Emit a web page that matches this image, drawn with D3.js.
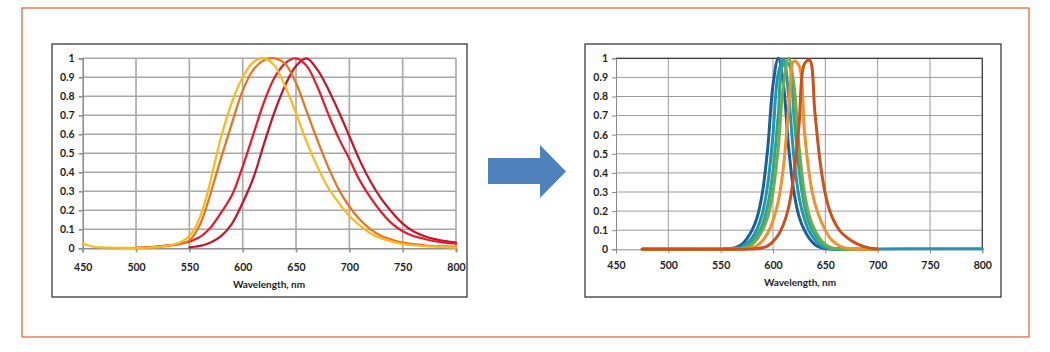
<!DOCTYPE html>
<html>
<head>
<meta charset="utf-8">
<script src="https://cdn.jsdelivr.net/npm/d3@7"></script>
<style>
    body { margin: 0; background: #fff; }
    svg text { font-family: Lato, "Open Sans", sans-serif; font-weight: 700; fill: #1e1e1e; }
</style>
</head>
<body>
<svg id="figure" width="1050" height="352"></svg>
<script>
// ---- data ----
var xTicks = [450, 500, 550, 600, 650, 700, 750, 800];
var yTicks = [0, 0.1, 0.2, 0.3, 0.4, 0.5, 0.6, 0.7, 0.8, 0.9, 1];
var yTickLabels = ["0", "0.1", "0.2", "0.3", "0.4", "0.5", "0.6", "0.7", "0.8", "0.9", "1"];
var axisTitle = "Wavelength, nm";

// left panel: broad emission spectra, 10 nm steps (5 nm on the steep rise)
var leftWavelengths = [450, 460, 470, 480, 490, 500, 510, 520, 530, 540, 545, 550, 555, 560, 565, 570, 580, 590, 600, 610, 620,
    630, 640, 650, 660, 670, 680, 690, 700, 710, 720, 730, 740, 750, 760, 770, 780, 790, 800];
var leftDarkRed = [null, null, null, null, null, null, null, null, null, null, null,
    0.005, 0.008, 0.013, 0.02, 0.03, 0.065, 0.13, 0.24, 0.37, 0.55, 0.72, 0.86, 0.96, 1.0, 0.94, 0.84, 0.72, 0.59,
    0.46, 0.35, 0.26, 0.19, 0.13, 0.09, 0.065, 0.048, 0.038, 0.03];
var leftRed = [null, null, null, null, null, 0.003, 0.005, 0.009, 0.015, 0.024, 0.029,
    0.035, 0.046, 0.06, 0.082, 0.11, 0.19, 0.28, 0.43, 0.60, 0.77, 0.90, 0.975, 1.0, 0.96, 0.85, 0.71, 0.58, 0.47,
    0.355, 0.265, 0.19, 0.13, 0.09, 0.065, 0.05, 0.037, 0.03, 0.024];
var leftOrange = [null, null, null, null, null, 0.003, 0.004, 0.007, 0.012, 0.02, 0.028,
    0.042, 0.075, 0.125, 0.2, 0.29, 0.48, 0.66, 0.83, 0.94, 0.99, 1.0, 0.97, 0.87, 0.72, 0.57, 0.43, 0.31, 0.22,
    0.15, 0.10, 0.065, 0.045, 0.03, 0.022, 0.016, 0.012, 0.01, 0.008];
var leftYellow = [0.025, 0.008, 0.004, 0.003, 0.002, 0.002, 0.003, 0.006, 0.014, 0.028, 0.043,
    0.065, 0.105, 0.165, 0.25, 0.36, 0.59, 0.77, 0.90, 0.98, 1.0, 0.96, 0.85, 0.71, 0.56, 0.43, 0.32, 0.24, 0.17,
    0.12, 0.078, 0.052, 0.035, 0.023, 0.016, 0.012, 0.009, 0.006, 0.004];

// right panel: narrow spectra, 5 nm steps around the peaks
var rightWavelengths = [475, 500, 525, 550, 555, 560, 565, 570, 575, 580, 585, 590, 595, 600, 605, 610, 615,
    620, 625, 630, 635, 640, 645, 650, 655, 660, 665, 670, 675, 680, 685, 690, 695, 700, 750, 800];
var rightBlue = [0, 0, 0, 0, 0.002, 0.004, 0.01, 0.025, 0.055, 0.10, 0.17, 0.30, 0.53, 0.86, 1, 0.86, 0.53,
    0.30, 0.17, 0.10, 0.055, 0.025, 0.01, 0.004, 0.001, 0, 0, 0, 0, 0, 0, 0, 0, 0, null, null];
var rightTeal = [0, 0, 0, 0, 0.001, 0.002, 0.005, 0.012, 0.03, 0.06, 0.11, 0.19, 0.34, 0.60, 0.92, 0.995, 0.80,
    0.48, 0.27, 0.16, 0.09, 0.05, 0.022, 0.009, 0.003, 0.001, 0, 0, 0, 0, 0, 0, 0, 0.002, 0.003, 0.003];
var rightTealGreen = [0, 0, 0, 0, 0, 0.001, 0.003, 0.007, 0.018, 0.042, 0.075, 0.13, 0.23, 0.41, 0.70, 0.97, 0.97,
    0.70, 0.41, 0.23, 0.13, 0.075, 0.042, 0.018, 0.007, 0.003, 0.001, 0, 0, 0, 0, 0, 0, 0, null, null];
var rightGreen = [0, 0, 0, 0, 0, 0, 0.002, 0.004, 0.01, 0.025, 0.055, 0.10, 0.17, 0.30, 0.53, 0.86, 1,
    0.86, 0.53, 0.30, 0.17, 0.10, 0.055, 0.025, 0.01, 0.004, 0.001, 0, 0, 0, 0, 0, 0, 0, null, null];
var rightOrange = [0, 0, 0, 0, 0, 0, 0, 0.001, 0.003, 0.008, 0.02, 0.045, 0.085, 0.15, 0.25, 0.43, 0.74,
    0.985, 0.96, 0.62, 0.38, 0.24, 0.16, 0.10, 0.055, 0.03, 0.014, 0.006, 0.002, 0, 0, 0, 0, 0, null, null];
var rightRed = [0, 0, 0, 0, 0, 0, 0, 0, 0.001, 0.002, 0.004, 0.008, 0.018, 0.04, 0.075, 0.13, 0.22,
    0.39, 0.66, 0.97, 0.99, 0.72, 0.46, 0.29, 0.19, 0.13, 0.09, 0.065, 0.045, 0.03, 0.018, 0.01, 0.004, 0.001, null, null];

/*
 * SpectrumChart - one framed Excel-like panel
 */
SpectrumChart = function(_svg, _layout, _wavelengths, _series, _style) {
    this.svg = _svg;
    this.layout = _layout;
    this.wavelengths = _wavelengths;
    this.series = _series;
    this.style = _style;
    this.initVis();
}

SpectrumChart.prototype.initVis = function() {
    var vis = this;
    var L = vis.layout, S = vis.style;

    vis.g = vis.svg.append("g");

    // outer frame
    vis.g.append("rect")
        .attr("x", L.box[0]).attr("y", L.box[1])
        .attr("width", L.box[2]).attr("height", L.box[3])
        .attr("fill", "#fff").attr("stroke", "#2b2b2b").attr("stroke-width", 1.2);

    vis.x = d3.scaleLinear().domain([450, 800]).range([L.plot[0], L.plot[1]]);
    vis.y = d3.scaleLinear().domain([0, 1]).range([L.plot[2], L.plot[3]]);

    // grid
    vis.g.append("g").selectAll("line.h")
        .data(yTicks.slice(1))
        .enter().append("line")
        .attr("x1", vis.x(450)).attr("x2", vis.x(800))
        .attr("y1", function(d) { return vis.y(d); })
        .attr("y2", function(d) { return vis.y(d); })
        .attr("stroke", S.grid).attr("stroke-width", S.gridWidth);
    vis.g.append("g").selectAll("line.v")
        .data(xTicks.slice(1))
        .enter().append("line")
        .attr("y1", vis.y(0)).attr("y2", vis.y(1))
        .attr("x1", function(d) { return vis.x(d); })
        .attr("x2", function(d) { return vis.x(d); })
        .attr("stroke", S.grid).attr("stroke-width", S.gridWidth);

    if (S.frameTopRight) {
        vis.g.append("path")
            .attr("d", "M" + vis.x(450) + "," + vis.y(1) + "H" + vis.x(800) + "V" + vis.y(0))
            .attr("fill", "none").attr("stroke", "#3a3a3a").attr("stroke-width", 1.2);
    }

    // axes
    var yAxis = d3.axisLeft(vis.y)
        .tickValues(yTicks)
        .tickFormat(function(d, i) { return yTickLabels[i]; })
        .tickSize(4).tickPadding(4);
    var xAxis = d3.axisBottom(vis.x)
        .tickValues(xTicks)
        .tickFormat(d3.format("d"))
        .tickSize(4).tickPadding(L.xPad);

    vis.g.append("g")
        .attr("transform", "translate(" + vis.x(450) + ",0)")
        .call(yAxis);
    vis.g.append("g")
        .attr("transform", "translate(0," + vis.y(0) + ")")
        .call(xAxis);

    vis.g.selectAll(".domain, .tick line")
        .attr("stroke", S.axis).attr("stroke-width", S.gridWidth);
    vis.g.selectAll(".tick text")
        .attr("font-size", 10.5).attr("fill", "#1e1e1e");

    vis.g.append("text")
        .attr("x", L.title[0]).attr("y", L.title[1])
        .attr("text-anchor", "middle")
        .attr("font-size", 10)
        .text(axisTitle);

    vis.updateVis();
}

SpectrumChart.prototype.updateVis = function() {
    var vis = this;

    var line = d3.line()
        .defined(function(d) { return d[1] !== null; })
        .x(function(d) { return vis.x(d[0]); })
        .y(function(d) { return vis.y(d[1]); })
        .curve(d3.curveCatmullRom.alpha(0.5));

    vis.series.forEach(function(s) {
        var pts = vis.wavelengths.map(function(w, i) { return [w, s.values[i]]; });
        vis.g.append("path")
            .datum(pts)
            .attr("d", line)
            .attr("fill", "none")
            .attr("stroke", s.color)
            .attr("stroke-width", vis.style.lineWidth)
            .attr("stroke-linejoin", "round")
            .attr("stroke-linecap", "round");
    });
}

// ---- page ----
var svg = d3.select("#figure");

// orange frame round the whole figure
svg.append("rect")
    .attr("x", 22).attr("y", 8).attr("width", 1007).attr("height", 329)
    .attr("fill", "#fff").attr("stroke", "#e5683f").attr("stroke-width", 1.3);

var leftChart = new SpectrumChart(svg,
    {box: [52, 44, 415, 253], plot: [82.7, 456, 248.3, 58.3], xPad: 11, title: [269, 288]},
    leftWavelengths,
    [
        {values: leftDarkRed, color: "#c2142b"},
        {values: leftRed, color: "#e8192a"},
        {values: leftOrange, color: "#e6731f"},
        {values: leftYellow, color: "#fbb91a"}
    ],
    {grid: "#a8a8a8", axis: "#8e8e8e", gridWidth: 1.6, lineWidth: 2.2, frameTopRight: false});

var rightChart = new SpectrumChart(svg,
    {box: [585, 44, 416, 253], plot: [616, 982.3, 249.3, 58.3], xPad: 8, title: [800, 286]},
    rightWavelengths,
    [
        {values: rightBlue, color: "#1c5e99"},
        {values: rightTeal, color: "#2496ac"},
        {values: rightTealGreen, color: "#2ba597"},
        {values: rightGreen, color: "#6fae47"},
        {values: rightOrange, color: "#f0902e"},
        {values: rightRed, color: "#c9521f"}
    ],
    {grid: "#9a9a9a", axis: "#8a8a8a", gridWidth: 1, lineWidth: 3, frameTopRight: true});

// blue arrow between the panels
var arrowX = d3.scaleLinear().domain([0, 1]).range([488, 566]);
var arrowY = d3.scaleLinear().domain([0, 1]).range([145, 198]);
var arrowShape = [[0, 0.245], [0.667, 0.245], [0.667, 0], [1, 0.5], [0.667, 1], [0.667, 0.736], [0, 0.736]];
svg.append("path")
    .attr("d", d3.line().x(function(d) { return arrowX(d[0]); }).y(function(d) { return arrowY(d[1]); })(arrowShape) + "Z")
    .attr("fill", "#4f81bd");
</script>
</body>
</html>
